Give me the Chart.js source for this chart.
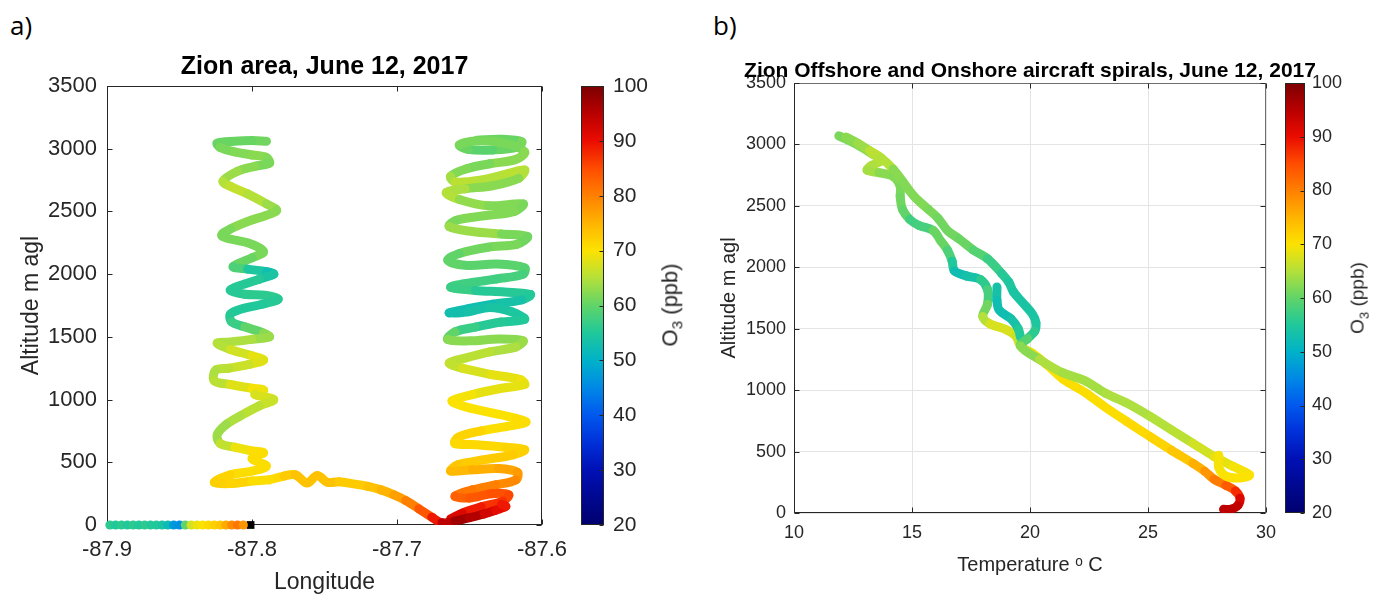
<!DOCTYPE html>
<html>
<head>
<meta charset="utf-8">
<title>Zion spirals, June 12, 2017</title>
<script src="https://cdn.jsdelivr.net/npm/chart.js@4.4.1/dist/chart.umd.min.js"></script>
<style>
  html, body { margin: 0; padding: 0; background: #fff; }
  body { width: 1373px; height: 594px; position: relative; overflow: hidden; font-family: "Liberation Sans", Arial, sans-serif; }
  canvas { position: absolute; top: 0; }
  .panel { position: absolute; font-family: "Open Sans", "Noto Sans", sans-serif; font-size: 26px; color: #000; line-height: 1; }
  .cblabel { position: absolute; transform: translate(-50%, -50%) rotate(-90deg); white-space: nowrap; color: #262626; }
  .cblabel sub { font-size: 70%; }
  .ptitle { position: absolute; transform: translateX(-50%); white-space: nowrap; font-weight: bold; color: #000; line-height: 24px; }
</style>
</head>
<body>
<div class="panel" style="left:10px; top:12px;">a)</div>
<div class="panel" style="left:713px; top:12px;">b)</div>
<canvas id="zionArea" width="600" height="594" style="left:0;"></canvas>
<canvas id="zionBar" width="140" height="594" style="left:560px;"></canvas>
<canvas id="spirals" width="590" height="594" style="left:700px;"></canvas>
<canvas id="spiralsBar" width="103" height="594" style="left:1270px;"></canvas>
<div class="ptitle" style="left:1030px; top:58px; font-size:21px;">Zion Offshore and Onshore aircraft spirals, June 12, 2017</div>
<div class="cblabel" style="left:672px; top:305px; font-size:22px;">O<sub>3</sub> (ppb)</div>
<div class="cblabel" style="left:1359px; top:298px; font-size:19px;">O<sub>3</sub> (ppb)</div>

<script>
// ---------------------------------------------------------
// data: [x, altitude m, O3 ppb]
// ---------------------------------------------------------

// panel a) longitude vs altitude
const lonTicks = [-87.9, -87.8, -87.7, -87.6];
const altTicks = [0, 500, 1000, 1500, 2000, 2500, 3000, 3500];

const westSpiral = [
  [-87.790, 3060, 62], [-87.800, 3065, 60], [-87.812, 3060, 61], [-87.824, 3045, 60],
  [-87.822, 3010, 61], [-87.812, 2975, 62], [-87.800, 2950, 62], [-87.790, 2930, 63],
  [-87.788, 2885, 61], [-87.798, 2860, 62], [-87.810, 2820, 63], [-87.820, 2740, 64],
  [-87.815, 2700, 66], [-87.803, 2640, 66], [-87.790, 2560, 64], [-87.783, 2510, 63],
  [-87.790, 2470, 62], [-87.803, 2420, 63], [-87.815, 2360, 62], [-87.821, 2310, 61],
  [-87.815, 2280, 62], [-87.803, 2250, 61], [-87.792, 2180, 62], [-87.800, 2130, 61],
  [-87.813, 2060, 60], [-87.803, 2040, 57], [-87.790, 2020, 52], [-87.785, 2000, 53],
  [-87.795, 1960, 55], [-87.808, 1910, 56], [-87.815, 1870, 55], [-87.805, 1840, 56],
  [-87.790, 1830, 56], [-87.782, 1800, 56], [-87.793, 1760, 55], [-87.808, 1720, 55],
  [-87.815, 1680, 55], [-87.814, 1620, 56], [-87.805, 1580, 58], [-87.792, 1530, 62],
  [-87.788, 1500, 63], [-87.800, 1480, 64], [-87.815, 1460, 65], [-87.824, 1450, 64],
  [-87.815, 1400, 66], [-87.800, 1350, 68], [-87.792, 1315, 69], [-87.802, 1280, 67],
  [-87.816, 1250, 66], [-87.825, 1235, 65], [-87.826, 1150, 64], [-87.815, 1120, 67],
  [-87.800, 1090, 69], [-87.792, 1075, 70], [-87.798, 1040, 68], [-87.785, 1000, 67],
  [-87.795, 950, 66], [-87.808, 870, 65], [-87.818, 800, 64], [-87.824, 720, 63],
  [-87.822, 650, 64], [-87.812, 620, 68], [-87.800, 590, 70], [-87.792, 575, 71],
  [-87.800, 530, 70], [-87.790, 470, 71], [-87.800, 430, 70], [-87.815, 400, 71],
  [-87.826, 340, 72], [-87.815, 330, 72], [-87.800, 350, 71], [-87.788, 360, 70]
];

const transitLeg = [
  [-87.788, 360, 70], [-87.778, 390, 72], [-87.770, 400, 73], [-87.762, 335, 74],
  [-87.755, 395, 73], [-87.748, 340, 74], [-87.740, 345, 73], [-87.730, 328, 72],
  [-87.720, 308, 73], [-87.711, 280, 74], [-87.702, 240, 76], [-87.694, 195, 78],
  [-87.685, 130, 82], [-87.676, 62, 86], [-87.669, 18, 92], [-87.660, 32, 97],
  [-87.650, 58, 97], [-87.640, 88, 94], [-87.632, 118, 91], [-87.625, 148, 90],
  [-87.628, 165, 88]
];

const eastSpiral = [
  [-87.645, 3068, 61], [-87.628, 3075, 60], [-87.614, 3055, 61], [-87.617, 3012, 62],
  [-87.634, 2990, 59], [-87.651, 2995, 60], [-87.657, 3030, 61], [-87.646, 3062, 62],
  [-87.626, 3045, 61], [-87.612, 2975, 62], [-87.618, 2915, 63], [-87.636, 2880, 62],
  [-87.652, 2840, 61], [-87.663, 2780, 63], [-87.660, 2735, 65], [-87.642, 2750, 66],
  [-87.624, 2800, 64], [-87.612, 2830, 67], [-87.616, 2765, 63], [-87.634, 2705, 62],
  [-87.653, 2680, 63], [-87.666, 2650, 66], [-87.657, 2595, 64], [-87.637, 2545, 62],
  [-87.613, 2560, 62], [-87.619, 2500, 61], [-87.640, 2465, 63], [-87.659, 2430, 61],
  [-87.664, 2380, 62], [-87.648, 2340, 65], [-87.628, 2320, 62], [-87.610, 2300, 61],
  [-87.617, 2240, 61], [-87.637, 2215, 62], [-87.657, 2165, 60], [-87.665, 2110, 60],
  [-87.652, 2070, 60], [-87.631, 2080, 59], [-87.612, 2050, 60], [-87.613, 2000, 58],
  [-87.631, 1962, 58], [-87.650, 1930, 57], [-87.663, 1895, 58], [-87.646, 1870, 56],
  [-87.626, 1858, 55], [-87.608, 1838, 56], [-87.614, 1795, 54], [-87.634, 1760, 53],
  [-87.652, 1722, 52], [-87.664, 1690, 53], [-87.651, 1700, 53], [-87.636, 1735, 54],
  [-87.621, 1700, 54], [-87.612, 1640, 55], [-87.628, 1618, 55], [-87.646, 1578, 56],
  [-87.660, 1540, 58], [-87.665, 1480, 62], [-87.650, 1468, 63], [-87.630, 1482, 62],
  [-87.613, 1468, 63], [-87.618, 1420, 64], [-87.636, 1380, 65], [-87.653, 1330, 66],
  [-87.664, 1290, 65], [-87.655, 1250, 67], [-87.635, 1200, 68], [-87.615, 1160, 69],
  [-87.612, 1120, 69], [-87.628, 1090, 68], [-87.648, 1040, 69], [-87.662, 990, 70],
  [-87.655, 950, 70], [-87.637, 900, 70], [-87.618, 850, 70], [-87.611, 820, 71],
  [-87.622, 790, 70], [-87.642, 750, 71], [-87.658, 700, 72], [-87.660, 650, 71],
  [-87.645, 640, 71], [-87.625, 620, 71], [-87.612, 600, 72], [-87.620, 560, 72],
  [-87.640, 520, 73], [-87.658, 480, 72], [-87.663, 430, 74], [-87.648, 440, 75],
  [-87.630, 450, 76], [-87.617, 420, 77], [-87.618, 360, 78], [-87.632, 320, 80],
  [-87.648, 280, 80], [-87.660, 230, 82], [-87.650, 215, 84], [-87.635, 250, 84],
  [-87.623, 240, 85], [-87.627, 190, 86], [-87.642, 145, 88], [-87.655, 95, 90],
  [-87.663, 50, 93]
];

// surface O3 along the bottom of panel a)
const surfaceLon = [-87.898, -87.894, -87.890, -87.886, -87.882, -87.878, -87.874, -87.870,
  -87.866, -87.862, -87.858, -87.854, -87.850, -87.846, -87.842, -87.838,
  -87.834, -87.830, -87.826, -87.822, -87.818, -87.814, -87.810, -87.806];
const surfaceO3 = [56, 55, 56, 55, 56, 55, 56, 55, 55, 54, 52, 47, 46, 60, 67, 69,
  70, 71, 72, 73, 76, 79, 81, 78];
const siteLon = [-87.801];

// panel b) temperature vs altitude
const tempTicks = [10, 15, 20, 25, 30];

const spiralPassA = [
  [11.9, 3070, 61], [12.3, 3035, 62], [12.8, 2985, 62], [13.3, 2925, 63], [13.7, 2870, 66],
  [13.3, 2830, 64], [13.1, 2790, 65], [13.6, 2770, 63], [14.2, 2740, 62], [14.5, 2660, 62],
  [14.5, 2575, 61], [14.6, 2470, 61], [14.9, 2390, 59], [15.3, 2340, 56], [15.9, 2300, 60],
  [16.2, 2220, 61], [16.5, 2140, 60], [16.7, 2050, 57], [16.8, 1970, 53], [17.3, 1930, 52],
  [17.9, 1900, 55], [18.2, 1820, 57], [18.2, 1700, 59], [18.0, 1600, 63], [18.3, 1540, 67],
  [18.9, 1500, 68], [19.4, 1440, 67], [19.6, 1360, 66], [20.1, 1300, 68], [20.7, 1210, 70],
  [21.4, 1090, 70], [22.3, 985, 71], [23.2, 860, 70], [24.1, 745, 71], [25.1, 620, 71],
  [26.0, 510, 72], [26.9, 405, 74], [27.4, 340, 77], [27.8, 275, 79], [28.3, 225, 82],
  [28.7, 180, 85], [28.9, 120, 90], [28.8, 60, 93], [28.5, 30, 95], [28.2, 30, 94]
];

const spiralPassB = [
  [12.2, 3060, 62], [12.7, 3010, 63], [13.2, 2950, 64], [13.7, 2890, 67], [14.2, 2800, 63],
  [14.6, 2700, 62], [15.1, 2575, 62], [15.7, 2470, 62], [16.1, 2400, 61], [16.5, 2300, 61],
  [17.0, 2230, 61], [17.6, 2140, 60], [18.2, 2070, 58], [18.8, 1950, 56], [19.1, 1880, 55],
  [19.3, 1800, 54], [19.7, 1710, 54], [20.1, 1620, 54], [20.25, 1550, 54], [20.2, 1480, 55],
  [19.9, 1420, 57], [19.6, 1360, 61], [20.4, 1250, 64], [21.4, 1140, 65], [22.3, 1080, 63],
  [23.2, 975, 65], [24.1, 895, 64], [25.1, 785, 65], [26.0, 676, 65], [26.9, 568, 66],
  [27.8, 460, 68], [28.6, 380, 69], [29.3, 310, 70], [28.9, 285, 70], [28.3, 300, 70],
  [28.0, 370, 70], [28.0, 470, 69]
];

const spiralPassC = [
  [18.6, 1840, 54], [18.6, 1730, 53], [18.7, 1650, 52], [19.2, 1580, 53], [19.5, 1500, 54],
  [19.6, 1430, 56]
];

// colour bar
const o3Ticks = [20, 30, 40, 50, 60, 70, 80, 90, 100];
const cmapLevels = [20, 25, 30, 35, 40, 45, 50, 55, 60, 65, 70, 75, 80, 85, 90, 95, 100];
const cmapColors = ['#00006e', '#000890', '#0010b4', '#0030d8', '#0058ee', '#0088e6', '#00b2c8',
  '#20c89a', '#60d468', '#b4e03a', '#fce200', '#ffb400', '#ff8000', '#ff4c00', '#ea0c00',
  '#b80000', '#7c0000'];

// ---------------------------------------------------------
// helpers
// ---------------------------------------------------------
const FONT = '"Liberation Sans", Arial, sans-serif';
const INK = '#262626';

function hexRgb(h) {
  return [parseInt(h.slice(1, 3), 16), parseInt(h.slice(3, 5), 16), parseInt(h.slice(5, 7), 16)];
}

function o3Color(v) {
  if (v <= cmapLevels[0]) return cmapColors[0];
  for (let i = 1; i < cmapLevels.length; i++) {
    if (v <= cmapLevels[i]) {
      const f = (v - cmapLevels[i - 1]) / (cmapLevels[i] - cmapLevels[i - 1]);
      const a = hexRgb(cmapColors[i - 1]), b = hexRgb(cmapColors[i]);
      const c = a.map((x, k) => Math.round(x + (b[k] - x) * f));
      return `rgb(${c[0]},${c[1]},${c[2]})`;
    }
  }
  return cmapColors[cmapColors.length - 1];
}

function track(points) {
  const o3 = points.map(p => p[2]);
  return {
    data: points.map(p => ({ x: p[0], y: p[1] })),
    showLine: true,
    pointRadius: 0,
    borderWidth: 9,
    tension: 0.35,
    borderCapStyle: 'round',
    borderJoinStyle: 'round',
    borderColor: o3Color(o3[0]),
    segment: {
      borderColor: s => o3Color((o3[s.p0DataIndex] + o3[s.p1DataIndex]) / 2)
    }
  };
}

function fixedTicks(values) {
  return scale => { scale.ticks = values.map(v => ({ value: v })); };
}

const plain = v => String(v);

// box + inward tick marks, MATLAB style
function drawFrame(chart, o) {
  const { ctx, chartArea: a, scales } = chart;
  const l = Math.round(a.left) + 0.5, r = Math.round(a.right) - 0.5;
  const t = Math.round(a.top) + 0.5, b = Math.round(a.bottom) - 0.5;
  ctx.save();
  ctx.lineWidth = 1;
  ctx.strokeStyle = o.boxColor;
  ctx.strokeRect(l, t, r - l, b - t);
  ctx.strokeStyle = INK;
  ctx.beginPath();
  ctx.moveTo(l, t); ctx.lineTo(l, b); ctx.lineTo(r, b);
  (o.xSides || []).forEach(side => {
    scales.x.ticks.forEach(tk => {
      const px = Math.round(scales.x.getPixelForValue(tk.value)) + 0.5;
      const y0 = side === 'bottom' ? b : t;
      ctx.moveTo(px, y0);
      ctx.lineTo(px, y0 + (side === 'bottom' ? -o.len : o.len));
    });
  });
  (o.ySides || []).forEach(side => {
    scales.y.ticks.forEach(tk => {
      const py = Math.round(scales.y.getPixelForValue(tk.value)) + 0.5;
      const x0 = side === 'left' ? l : r;
      ctx.moveTo(x0, py);
      ctx.lineTo(x0 + (side === 'left' ? o.len : -o.len), py);
    });
  });
  ctx.stroke();
  ctx.restore();
}

const framePlugin = {
  id: 'frame',
  beforeDatasetsDraw(chart, args, o) { if (!o.onTop) drawFrame(chart, o); },
  afterDatasetsDraw(chart, args, o) { if (o.onTop) drawFrame(chart, o); }
};

function colorBar(canvasId, padLeft, padTop, padBottom, axisWidth, fontSize, labelPad) {
  return new Chart(document.getElementById(canvasId), {
    type: 'bar',
    data: {
      labels: ['O3'],
      datasets: [{
        data: [[o3Ticks[0], o3Ticks[o3Ticks.length - 1]]],
        barPercentage: 1,
        categoryPercentage: 1,
        borderWidth: 0,
        backgroundColor: c => {
          const ch = c.chart;
          if (!ch.chartArea) return cmapColors[6];
          const y = ch.scales.y;
          const g = ch.ctx.createLinearGradient(0, y.getPixelForValue(20), 0, y.getPixelForValue(100));
          cmapLevels.forEach((v, i) => g.addColorStop((v - 20) / 80, cmapColors[i]));
          return g;
        }
      }]
    },
    options: {
      responsive: false, animation: false, events: [], devicePixelRatio: 1,
      layout: { padding: { left: padLeft, top: padTop, bottom: padBottom, right: 0 } },
      plugins: {
        legend: { display: false }, tooltip: { enabled: false },
        frame: { onTop: true, boxColor: INK, ySides: ['right'], len: 4 }
      },
      scales: {
        x: { display: false },
        y: {
          position: 'right', min: 20, max: 100,
          afterBuildTicks: fixedTicks(o3Ticks),
          afterFit: s => { s.width = axisWidth; },
          grid: { display: false, drawTicks: false },
          border: { display: false },
          ticks: { padding: labelPad, color: INK, font: { family: FONT, size: fontSize }, callback: plain }
        }
      }
    },
    plugins: [framePlugin]
  });
}

// ---------------------------------------------------------
// panel a)
// ---------------------------------------------------------
new Chart(document.getElementById('zionArea'), {
  type: 'scatter',
  data: {
    datasets: [
      track(westSpiral),
      track(transitLeg),
      track(eastSpiral),
      {
        data: surfaceLon.map(x => ({ x: x, y: 0 })),
        pointRadius: 4.6, pointBorderWidth: 0,
        pointBackgroundColor: surfaceO3.map(o3Color),
        clip: false
      },
      {
        data: siteLon.map(x => ({ x: x, y: 0 })),
        pointStyle: 'rect', pointRadius: 5.5, pointBorderWidth: 0,
        pointBackgroundColor: '#000', clip: false
      }
    ]
  },
  options: {
    responsive: false, animation: false, events: [], devicePixelRatio: 1,
    layout: { padding: { left: 0, right: 58, top: 0, bottom: 0 } },
    plugins: {
      legend: { display: false }, tooltip: { enabled: false },
      title: {
        display: true, fullSize: false, text: 'Zion area, June 12, 2017', color: '#000',
        font: { family: FONT, size: 25, weight: 'bold', lineHeight: 1.2 },
        padding: { top: 52, bottom: 4 }
      },
      frame: { onTop: false, boxColor: INK, xSides: ['bottom', 'top'], ySides: ['left', 'right'], len: 5 }
    },
    scales: {
      x: {
        min: -87.9, max: -87.6,
        afterBuildTicks: fixedTicks(lonTicks),
        afterFit: s => { s.height = 69; },
        grid: { display: false, drawTicks: false },
        border: { display: false },
        ticks: { padding: 12, color: INK, maxRotation: 0, autoSkip: false,
          font: { family: FONT, size: 22 }, callback: v => v.toFixed(1) },
        title: { display: true, text: 'Longitude', color: INK,
          font: { family: FONT, size: 23, lineHeight: 1.0 }, padding: { top: 0, bottom: 0 } }
      },
      y: {
        min: 0, max: 3500,
        afterBuildTicks: fixedTicks(altTicks),
        afterFit: s => { s.width = 107; },
        grid: { display: false, drawTicks: false },
        border: { display: false },
        ticks: { padding: 10, color: INK, font: { family: FONT, size: 22 }, callback: plain },
        title: { display: true, text: 'Altitude m agl', color: INK,
          font: { family: FONT, size: 23, lineHeight: 1.2 }, padding: { top: 18 } }
      }
    }
  },
  plugins: [framePlugin]
});

colorBar('zionBar', 21, 86, 69, 96, 21, 9);

// ---------------------------------------------------------
// panel b)  (title is the html line above the canvas)
// ---------------------------------------------------------
new Chart(document.getElementById('spirals'), {
  type: 'scatter',
  data: {
    datasets: [track(spiralPassB), track(spiralPassC), track(spiralPassA)]
  },
  options: {
    responsive: false, animation: false, events: [], devicePixelRatio: 1,
    layout: { padding: { left: 0, right: 24, top: 83, bottom: 0 } },
    plugins: {
      legend: { display: false }, tooltip: { enabled: false },
      frame: { onTop: false, boxColor: '#6e6e6e', xSides: ['bottom', 'top'], ySides: ['left', 'right'], len: 5 }
    },
    scales: {
      x: {
        min: 10, max: 30,
        afterBuildTicks: fixedTicks(tempTicks),
        afterFit: s => { s.height = 81; },
        grid: { color: '#e4e4e4', drawTicks: false },
        border: { display: false },
        ticks: { padding: 9, color: INK, maxRotation: 0, autoSkip: false,
          font: { family: FONT, size: 18 }, callback: plain },
        title: { display: true, text: 'Temperature \u1d52 C', color: INK,
          font: { family: FONT, size: 20, lineHeight: 1.2 }, padding: { top: 0, bottom: 17 } }
      },
      y: {
        min: 0, max: 3500,
        afterBuildTicks: fixedTicks(altTicks),
        afterFit: s => { s.width = 94; },
        grid: { color: '#e4e4e4', drawTicks: false },
        border: { display: false },
        ticks: { padding: 8, color: INK, font: { family: FONT, size: 18 }, callback: plain },
        title: { display: true, text: 'Altitude m agl', color: INK,
          font: { family: FONT, size: 20, lineHeight: 1.2 }, padding: { top: 17 } }
      }
    }
  },
  plugins: [framePlugin]
});

colorBar('spiralsBar', 15, 83, 81, 68, 18, 7);
</script>
</body>
</html>
